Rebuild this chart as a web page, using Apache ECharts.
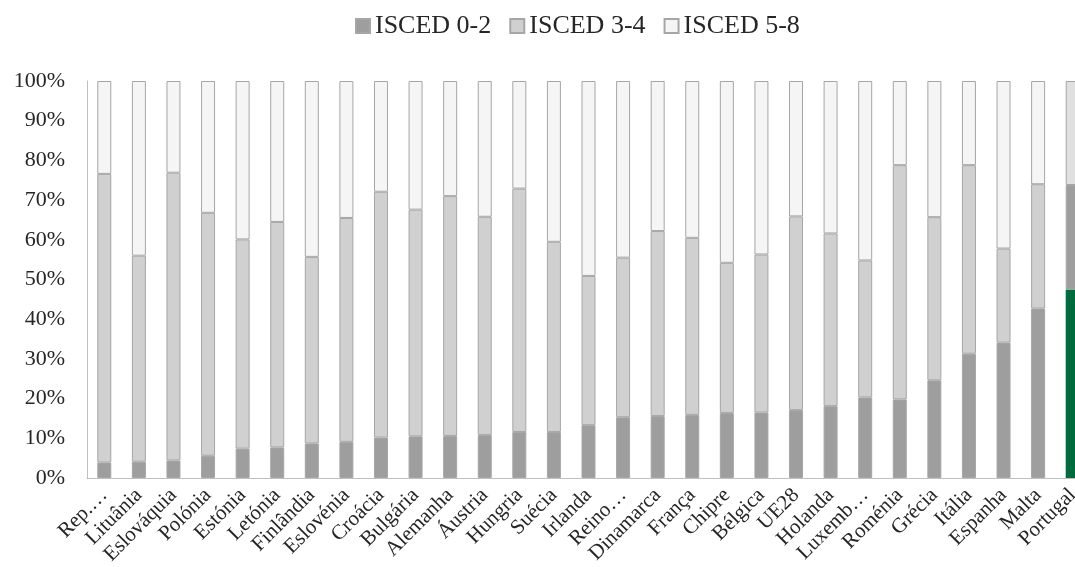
<!DOCTYPE html>
<html>
<head>
<meta charset="utf-8">
<script src="https://cdn.jsdelivr.net/npm/echarts@6/dist/echarts.min.js"></script>
<style>
  html, body { margin: 0; padding: 0; background: #fff; }
  #chart { width: 1075px; height: 567px; }
</style>
</head>
<body>
<div id="chart"></div>
<script>
// países (ordenados pela percentagem ISCED 0-2)
var paises = ['Rep.…', 'Lituânia', 'Eslováquia', 'Polónia', 'Estónia', 'Letónia', 'Finlândia',
  'Eslovénia', 'Croácia', 'Bulgária', 'Alemanha', 'Áustria', 'Hungria', 'Suécia', 'Irlanda',
  'Reino…', 'Dinamarca', 'França', 'Chipre', 'Bélgica', 'UE28', 'Holanda', 'Luxemb…',
  'Roménia', 'Grécia', 'Itália', 'Espanha', 'Malta', 'Portugal'];

var isced02 = [3.9, 4.1, 4.4, 5.6, 7.4, 7.7, 8.7, 9.1, 10.2, 10.5, 10.6, 10.8, 11.6, 11.6, 13.3,
  15.3, 15.6, 15.9, 16.4, 16.5, 17.1, 18.1, 20.3, 19.8, 24.6, 31.3, 34.1, 42.7, 47.5];
var isced34 = [72.7, 51.9, 72.5, 61.2, 52.7, 56.8, 47.0, 56.4, 61.9, 57.1, 60.4, 55.0, 61.3, 47.9, 37.6,
  40.2, 46.6, 44.6, 37.8, 39.8, 48.8, 43.5, 34.5, 59.0, 41.1, 47.5, 23.7, 31.3, 26.3];
var isced58 = [23.4, 44.0, 23.1, 33.2, 39.9, 35.5, 44.3, 34.5, 27.9, 32.4, 29.0, 34.2, 27.1, 40.5, 49.1,
  44.5, 37.8, 39.5, 45.8, 43.7, 34.1, 38.4, 45.2, 21.2, 34.3, 21.2, 42.2, 26.0, 26.2];

var yTicks = [0, 10, 20, 30, 40, 50, 60, 70, 80, 90, 100];

// Portugal aparece destacado com outras cores
var destaque = { 'Portugal': ['#006B3D', '#9E9E9E', '#E0E0E0'] };

function serie(nome, valores, cor, idx) {
  return {
    name: nome,
    type: 'bar',
    stack: 'total',
    barWidth: 14,
    itemStyle: { color: cor, borderColor: '#A6A6A6', borderWidth: 1 },
    data: valores.map(function (v, i) {
      var d = destaque[paises[i]];
      if (d) return { value: v, itemStyle: { color: d[idx], borderWidth: idx === 0 ? 0 : 1 } };
      return v;
    })
  };
}

var myChart = echarts.init(document.getElementById('chart'));
var fonte = '"Liberation Serif", "Times New Roman", serif';
var option = {
  animation: false,
  textStyle: { fontFamily: fonte },
  legend: {
    top: 8,
    left: 350,
    itemWidth: 14,
    itemHeight: 14,
    itemGap: 18,
    icon: 'rect',
    textStyle: { fontFamily: fonte, fontSize: 26, color: '#262626', padding: [0, 0, 0, 0] },
    data: ['ISCED 0-2', 'ISCED 3-4', 'ISCED 5-8']
  },
  grid: { left: 87, top: 81, width: 1003, height: 397, outerBoundsMode: 'none' },
  xAxis: {
    type: 'category',
    data: paises,
    axisLine: { lineStyle: { color: '#BFBFBF', width: 1 } },
    axisTick: { show: false },
    axisLabel: {
      rotate: 45,
      interval: 0,
      margin: 14,
      fontFamily: fonte,
      fontSize: 21,
      color: '#262626'
    }
  },
  yAxis: {
    type: 'value',
    min: yTicks[0],
    max: yTicks[yTicks.length - 1],
    interval: 10,
    splitLine: { show: false },
    axisLine: { show: true, lineStyle: { color: '#BFBFBF', width: 1 } },
    axisTick: { show: false },
    axisLabel: {
      margin: 22,
      fontFamily: fonte,
      fontSize: 22,
      color: '#262626',
      formatter: '{value}%'
    }
  },
  series: [
    serie('ISCED 0-2', isced02, '#9E9E9E', 0),
    serie('ISCED 3-4', isced34, '#D0D0D0', 1),
    serie('ISCED 5-8', isced58, '#F5F5F5', 2)
  ]
};
myChart.setOption(option);
</script>
</body>
</html>
